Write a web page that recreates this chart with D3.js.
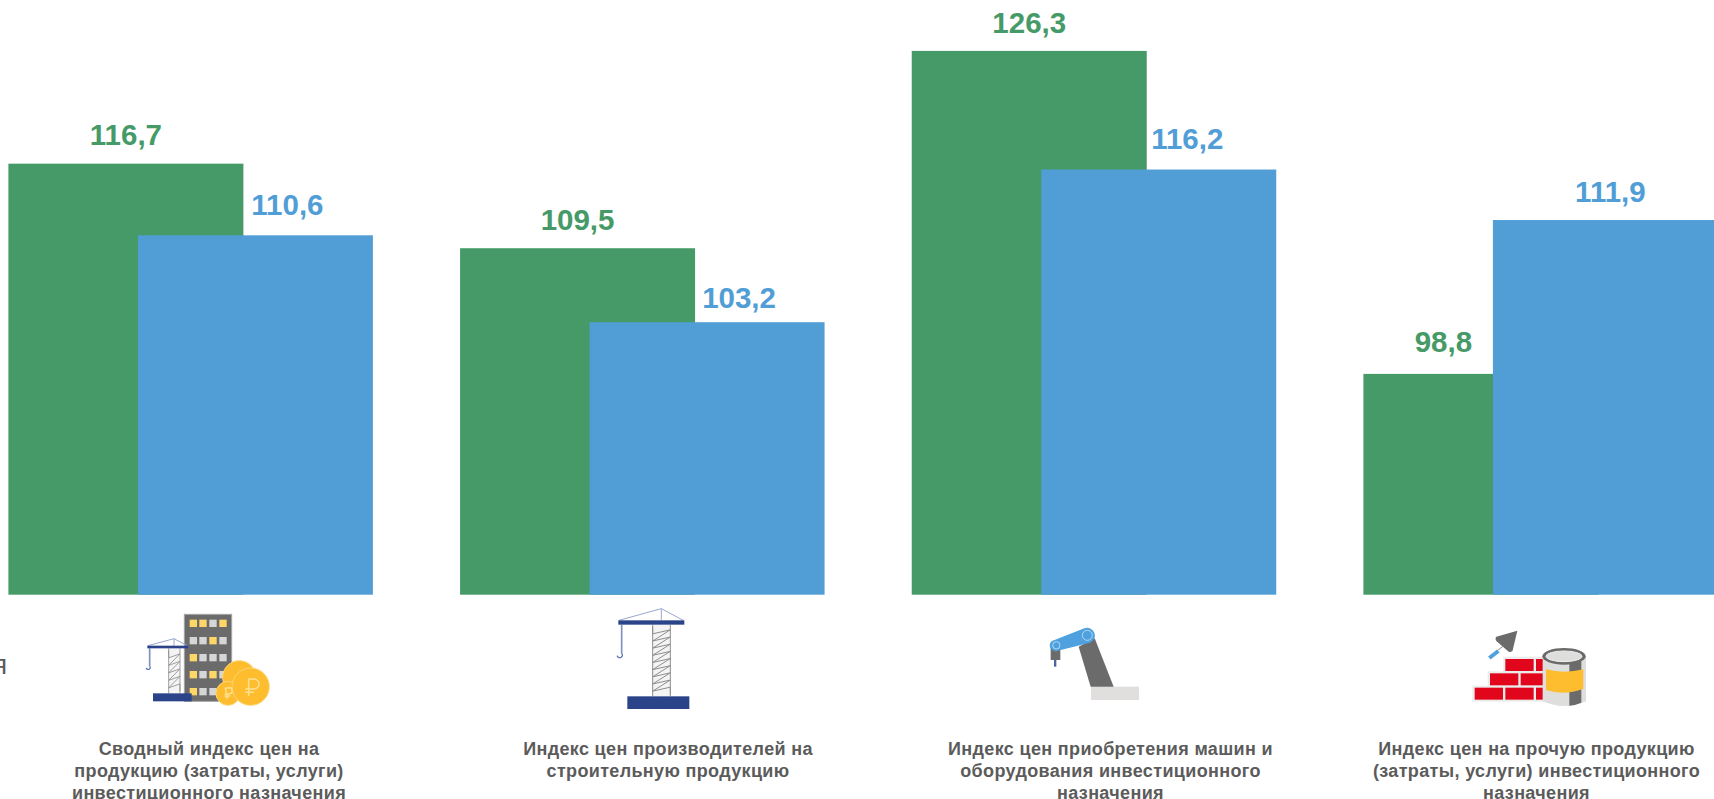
<!DOCTYPE html>
<html lang="ru"><head><meta charset="utf-8">
<script src="https://d3js.org/d3.v7.min.js"></script>
<style>html,body{margin:0;padding:0;background:#fff;overflow:hidden}svg{display:block}text{font-family:"Liberation Sans",Arial,sans-serif;font-weight:700}</style>
</head><body><svg id="c" width="1714" height="799"></svg>
<script>
const categories=["Сводный индекс цен на продукцию","Индекс цен производителей","Индекс цен приобретения машин","Индекс цен на прочую продукцию"];
const seriesGreen=[116.7,109.5,126.3,98.8];
const seriesBlue=[110.6,103.2,116.2,111.9];
const labelLines=[
 ["Сводный индекс цен на","продукцию (затраты, услуги)","инвестиционного назначения"],
 ["Индекс цен производителей на","строительную продукцию"],
 ["Индекс цен приобретения машин и","оборудования инвестиционного","назначения"],
 ["Индекс цен на прочую продукцию","(затраты, услуги) инвестиционного","назначения"]];
const GREEN="#469a67",BLUE="#519ed7",GREY="#5b5b5b",DARK="#6b6b6b",NAVY="#2a4389",COIN="#fdbd2e",LIGHT="#dededc",WIN="#ffd766",RED="#e2061c";
const fmt=v=>d3.format(".1f")(v).replace(".",",");
const svg=d3.select("#c");
const x=d3.scaleBand().domain(categories).range([8.4,8.4+4*451.67]);
const y=d3.scaleLinear().domain([80,130]).range([594.7,594.7-50*11.745]);
const barW=235,blueOff=129.5;
const greenLabelDx=[117.5,117.5,117.5,80];
const greenLabelDy=[19,18,18,22];
const blueLabelDx=[149.5,149.5,146,117.5];
const blueLabelDy=[20,14.5,20.5,18];
const captionX=[209,668,1110.5,1536.5];
const g=svg.append("g");
g.selectAll(".g").data(categories).join("rect").attr("class","g").attr("fill",GREEN)
 .attr("x",d=>x(d)).attr("width",barW).attr("y",(d,i)=>y(seriesGreen[i])).attr("height",(d,i)=>y(80)-y(seriesGreen[i]));
g.selectAll(".b").data(categories).join("rect").attr("class","b").attr("fill",BLUE)
 .attr("x",d=>x(d)+blueOff).attr("width",barW).attr("y",(d,i)=>y(seriesBlue[i])).attr("height",(d,i)=>y(80)-y(seriesBlue[i]));
g.selectAll(".gl").data(categories).join("text").attr("class","gl").attr("fill",GREEN).attr("font-size",29.5).attr("text-anchor","middle")
 .attr("x",(d,i)=>x(d)+greenLabelDx[i]).attr("y",(d,i)=>y(seriesGreen[i])-greenLabelDy[i]).text((d,i)=>fmt(seriesGreen[i]));
g.selectAll(".bl").data(categories).join("text").attr("class","bl").attr("fill",BLUE).attr("font-size",29.5).attr("text-anchor","middle")
 .attr("x",(d,i)=>x(d)+blueOff+blueLabelDx[i]).attr("y",(d,i)=>y(seriesBlue[i])-blueLabelDy[i]).text((d,i)=>fmt(seriesBlue[i]));
labelLines.forEach((ls,i)=>{
 const t=svg.append("text").attr("fill",GREY).attr("font-size",18).attr("letter-spacing",0.35).attr("text-anchor","middle");
 ls.forEach((l,j)=>t.append("tspan").attr("x",captionX[i]).attr("y",755+j*22).text(l));
});
svg.append("text").attr("fill",GREY).attr("font-size",27).attr("text-anchor","end").style("font-weight",400).attr("x",7).attr("y",674).text("я");

function ico(ox,oy){return svg.append("g").attr("transform",`translate(${ox},${oy}) scale(${1/3})`);}
function R(s,a,b,c,d,f,st){return s.append("rect").attr("x",a).attr("y",b).attr("width",c-a).attr("height",d-b).attr("fill",f).attr("stroke",st||"none").attr("stroke-width",st?3:0);}
function L(s,p,st,w,cap){return s.append("path").attr("d",d3.line()(p)).attr("fill","none").attr("stroke",st).attr("stroke-width",w).attr("stroke-linecap",cap||"butt");}
function crane(s,o){
 const {jx0,jx1,jy0,jy1,bx0,bx1,by0,by1,mx0,mx1,apex,cable,hookY,hookR,sw}=o;
 const n=Math.round((by0-jy1)/21);
 R(s,mx0,jy1,mx1,by0,"#f4f4f4");
 const zz=[];for(let i=0;i<=n;i++){const yy=jy1+(by0-jy1)*i/n;zz.push([mx0,yy+6],[mx1,yy-6]);}
 L(s,zz.filter(p=>p[1]>=jy1&&p[1]<=by0),"#8e8e8e",sw);
 L(s,[[mx0,jy1],[mx0,by0]],"#8e8e8e",sw);L(s,[[mx1,jy1],[mx1,by0]],"#8e8e8e",sw);
 L(s,[[jx0+2,jy0],[apex,jy0-(o.ah)],[jx1-3,jy0]],"#9aa8cf",3);
 L(s,[[apex,jy0-o.ah],[apex,jy0]],"#9aa8cf",3);
 L(s,[[cable,jy1],[cable,hookY]],"#7f8fc2",5);
 s.append("path").attr("d",`M${cable+hookR*.2},${hookY} a${hookR},${hookR} 0 1 1 ${-hookR*1.9},${hookR*.6}`).attr("fill","none").attr("stroke","#5f74b4").attr("stroke-width",4);
 R(s,jx0,jy0,jx1,jy1,NAVY);
 R(s,bx0,by0,bx1,by1,NAVY);
}
// icon 1
{const s=ico(0,540);
 R(s,553,223,695,484,DARK,"#a5a5a5");
 const wx=[580,609,639,669],wy=[250,302,353,404,455];
 const wc=[[1,1,0,1],[0,0,1,0],[1,0,0,0],[1,0,1,0],[1,0,0,0]];
 wy.forEach((yy,r)=>wx.forEach((xx,c)=>R(s,xx-11,yy-11,xx+11,yy+11,wc[r][c]?WIN:"#d6d6d6")));
 crane(s,{jx0:442,jx1:565,jy0:317,jy1:325,bx0:459,bx1:575,by0:460,by1:484,mx0:506,mx1:540,apex:522,ah:21,cable:449,hookY:380,hookR:6,sw:2.5});
 [[718,412,50],[684,460,36],[752,440,56]].forEach(c=>s.append("circle").attr("cx",c[0]).attr("cy",c[1]).attr("r",c[2]).attr("fill",COIN).attr("stroke","#fed678").attr("stroke-width",3));
 const rub=(cx,cy,k,rot)=>s.append("path").attr("transform",`translate(${cx},${cy}) rotate(${rot}) scale(${k})`).attr("d","M-8,26 V-26 H8 A14,14 0 0 1 8,4 H-18 M-18,14 H8").attr("fill","none").attr("stroke","#fee08f").attr("stroke-width",4.5/k);
 rub(754,443,1,0);rub(684,460,.62,-12);
}
// icon 2
crane(ico(420,540),{jx0:595,jx1:793,jy0:241,jy1:254,bx0:622,bx1:808,by0:469,by1:507,mx0:698,mx1:751,apex:724,ah:35,cable:605,hookY:342,hookR:8,sw:3});
// icon 3
{const s=ico(840,540);
 R(s,753,440,897,480,"#e0dfdd");
 s.append("polygon").attr("points",d3.line()([[716,320],[764,295],[821,440],[752,440]]).slice(1).replace(/L/g," ")).attr("fill",DARK);
 R(s,632,320,661,360,DARK);R(s,642,360,649,380,"#4a64a8");
 s.append("path").attr("d","M636,303 L733,265 A23,23 0 0 1 750,308 L653,332 A17,17 0 0 1 636,303Z").attr("fill","#4ea1de");
 [[742,286,15],[649,316,11]].forEach(c=>s.append("circle").attr("cx",c[0]).attr("cy",c[1]).attr("r",c[2]).attr("fill","none").attr("stroke","#b4d7f0").attr("stroke-width",3));
}
// icon 4
{const s=ico(1240,540);
 R(s,697,437,915,485,"#ececec");R(s,743,394,915,440,"#ececec");R(s,790,350,915,397,"#ececec");
 [[704,443,789,479],[796,443,881,479],[888,443,912,479],[750,400,835,436],[842,400,912,436],[796,357,881,393],[888,357,912,393]].forEach(b=>R(s,b[0],b[1],b[2],b[3],RED));
 s.append("path").attr("d","M832,272 L769,290 Q764,296 770,304 L806,335 Q814,338 818,331 Z").attr("fill",DARK);
 L(s,[[790,318],[772,332]],"#8a8a8a",3);
 L(s,[[775,333],[748,354]],"#4ea1de",12);
 s.append("path").attr("d","M908,348 V484 Q973,512 1038,484 V348 Z").attr("fill",LIGHT);
 s.append("path").attr("d","M988,352 H1024 V488 Q1006,496 988,497 Z").attr("fill",DARK);
 s.append("path").attr("d","M918,388 Q973,402 1030,388 V446 Q973,468 918,450 Z").attr("fill",COIN);
 s.append("ellipse").attr("cx",972).attr("cy",349).attr("rx",65).attr("ry",25).attr("fill",DARK);
 s.append("ellipse").attr("cx",972).attr("cy",349).attr("rx",54).attr("ry",16).attr("fill",LIGHT).attr("stroke","#efefef").attr("stroke-width",3);
}
</script></body></html>
